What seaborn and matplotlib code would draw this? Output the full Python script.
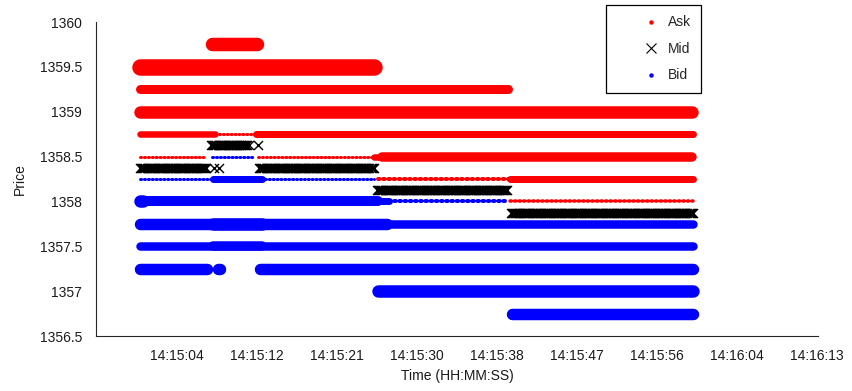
import numpy as np
import pandas as pd
import seaborn as sns
import matplotlib
matplotlib.use("Agg")
import matplotlib.pyplot as plt
from matplotlib.lines import Line2D

# --- order book -----------------------------------------------------------
# every level is a run of quotes: price, first time (s), last time (s),
# marker diameter (px, ~ volume at that level)
ASK_PRICE = [1359.75, 1359.5, 1359.25, 1359.0,
             1358.75, 1358.75, 1358.75,
             1358.5, 1358.5, 1358.5, 1358.5,
             1358.25, 1358.25, 1358.0]
ASK_T0 = [7.8, 0.0, 0.0, 0.0,
          0.0, 8.1, 12.6,
          0.0, 12.8, 25.4, 26.3,
          25.8, 40.1, 40.1]
ASK_T1 = [12.7, 25.4, 39.9, 59.9,
          8.1, 12.6, 60.0,
          7.1, 25.4, 26.3, 59.9,
          40.0, 60.0, 60.0]
ASK_SIZE = [13.5, 16.5, 9, 12.5,
            6.5, 3, 7,
            3, 3, 6.5, 9.5,
            4, 7, 3.5]

BID_PRICE = [1358.5,
             1358.25, 1358.25,
             1358.0, 1358.0, 1358.0, 1358.0,
             1357.75, 1357.75, 1357.75,
             1357.5, 1357.5,
             1357.25, 1357.25, 1357.25,
             1357.0, 1356.75]
BID_T0 = [7.8,
          0.0, 7.9,
          0.0, 0.0, 25.8, 27.0,
          0.0, 7.9, 26.8,
          0.0, 7.9,
          0.0, 8.5, 13.0,
          25.8, 40.4]
BID_T1 = [12.3,
          25.4, 13.2,
          0.3, 25.8, 27.0, 39.8,
          26.8, 13.2, 60.0,
          60.0, 13.2,
          7.3, 8.7, 60.0,
          60.0, 60.0]
BID_SIZE = [3,
            3, 7,
            12.5, 10, 7, 4,
            11.5, 12.5, 8.5,
            8.5, 9.5,
            11.5, 11.5, 11.5,
            12.5, 11.5]

MID_PRICE = [1358.375, 1358.375, 1358.375, 1358.625, 1358.625,
             1358.375, 1358.125, 1357.875]
MID_T0 = [0.0, 8.0, 8.6, 7.7, 12.8, 12.9, 25.7, 40.2]
MID_T1 = [7.2, 8.0, 8.6, 11.8, 12.8, 25.4, 39.9, 60.0]
QUOTE_STEP = 0.12  # spacing of the mid-quote snapshots (s)

TICK_POS = [4.0, 12.7, 21.4, 30.0, 38.7, 47.4, 56.1, 64.8, 73.4]
TICK_LABELS = ["14:15:04", "14:15:12", "14:15:21", "14:15:30", "14:15:38",
               "14:15:47", "14:15:56", "14:16:04", "14:16:13"]
Y_TICKS = [1356.5, 1357, 1357.5, 1358, 1358.5, 1359, 1359.5, 1360]

# --- style ------------------------------------------------------------------
sns.set_style("white")
plt.rcParams["font.family"] = ["Liberation Sans", "DejaVu Sans"]
plt.rcParams["font.size"] = 10

fig = plt.figure(figsize=(8.53, 3.91), dpi=100)
ax = fig.add_axes([96 / 853, 55 / 391, 722 / 853, 314 / 391])

PX = 0.72  # points per pixel at 100 dpi


def draw_runs(prices, t0s, t1s, sizes, color):
    for p, a, b, d in zip(prices, t0s, t1s, sizes):
        if d <= 4:
            # thin levels show up as a string of small dots
            ax.plot([a, b], [p, p], color=color, lw=d * PX,
                    ls=(0, (0.4, 0.9)), dash_capstyle="round", zorder=2)
        else:
            ax.plot([a, b], [p, p], color=color, lw=d * PX,
                    solid_capstyle="round", zorder=2)


draw_runs(ASK_PRICE, ASK_T0, ASK_T1, ASK_SIZE, "#ff0000")

# mid quotes as dense x markers
mid_t, mid_p = [], []
for p, a, b in zip(MID_PRICE, MID_T0, MID_T1):
    ts = np.arange(a, b + 1e-9, QUOTE_STEP) if b > a else np.array([a])
    mid_t.extend(ts)
    mid_p.extend([p] * len(ts))
mid = pd.DataFrame({"time": mid_t, "price": mid_p})
sns.scatterplot(data=mid, x="time", y="price", marker="x", color="black",
                s=42, linewidth=1.0, ax=ax, zorder=3, legend=False)

draw_runs(BID_PRICE, BID_T0, BID_T1, BID_SIZE, "#0000ff")

# --- axes -------------------------------------------------------------------
ax.set_xlim(-4.77, 73.56)
ax.set_ylim(1356.5, 1360)
ax.set_xticks(TICK_POS)
ax.set_xticklabels(TICK_LABELS)
ax.set_yticks(Y_TICKS)
ax.set_yticklabels([f"{v:g}" for v in Y_TICKS])
ax.tick_params(direction="in", length=3.5, width=0.6, colors="#262626",
               labelcolor="#1a1a1a", labelsize=10)
ax.tick_params(axis="x", pad=9)
ax.tick_params(axis="y", pad=10)
ax.set_xlabel("Time (HH:MM:SS)", fontsize=10, color="#1a1a1a", labelpad=5)
ax.set_ylabel("Price", fontsize=10, color="#1a1a1a", labelpad=9)
for side in ["top", "right"]:
    ax.spines[side].set_visible(False)
for side in ["left", "bottom"]:
    ax.spines[side].set_color("#262626")
    ax.spines[side].set_linewidth(0.8)

handles = [
    Line2D([], [], ls="none", marker="o", ms=2.2, color="#ff0000"),
    Line2D([], [], ls="none", marker="x", ms=6.5, mew=0.8, color="black"),
    Line2D([], [], ls="none", marker="o", ms=2.2, color="#0000ff"),
]
leg = fig.legend(handles, ["Ask", "Mid", "Bid"], loc="upper left",
                 bbox_to_anchor=(606 / 853, 1 - 5 / 391), borderaxespad=0,
                 fontsize=10, frameon=True, fancybox=False,
                 handlelength=5.0, handletextpad=-1.3, borderpad=0.75,
                 labelspacing=0.9)
leg.get_frame().set_edgecolor("black")
leg.get_frame().set_linewidth(0.9)
leg.get_frame().set_alpha(1)
# stretch the frame a little to the right, like the original box
leg._legend_box.align = "left"

fig.savefig("out.png", dpi=100)
